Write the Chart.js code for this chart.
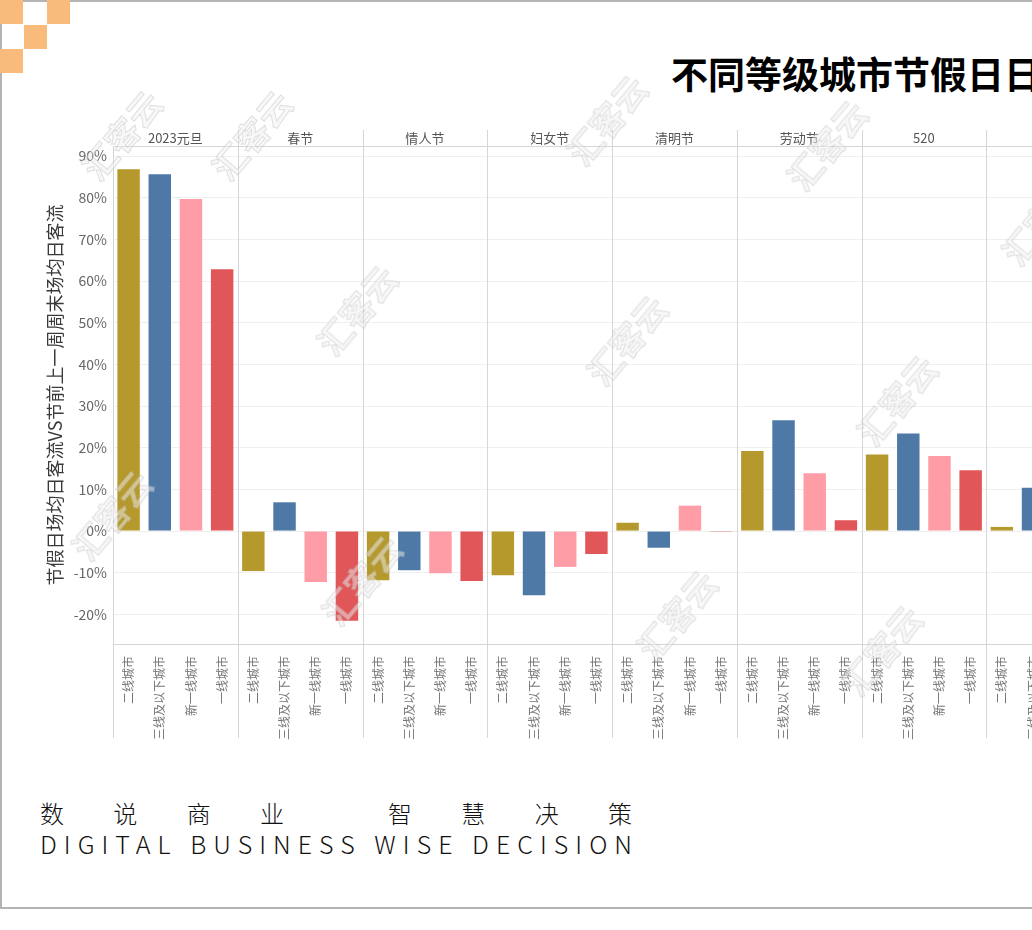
<!DOCTYPE html>
<html>
<head>
<meta charset="utf-8">
<script src="https://cdn.jsdelivr.net/npm/chart.js@4.4.0/dist/chart.umd.min.js"></script>
<style>
  html, body { margin: 0; padding: 0; background: #fff; }
  body { width: 1032px; height: 930px; overflow: hidden; position: relative; font-family: "Noto Sans CJK SC", "Noto Sans", sans-serif; }
  .frame { position: absolute; left: 0; top: 0; width: 1200px; height: 905px; border: 2px solid #b4b4b4; }
  .sq { position: absolute; width: 23px; height: 24px; background: #f8bb7c; }
  #wrap { position: absolute; left: 0; top: 0; width: 1120px; height: 760px; }
  .title { position: absolute; left: 671px; top: 55px; font-size: 37px; line-height: 37px; font-weight: 700; color: #000; white-space: nowrap; }
  .foot { position: absolute; left: 40px; white-space: nowrap; color: #111; font-weight: 300; }
  #f1 { top: 799px; font-size: 24px; line-height: 28px; }
  #f2 { top: 829px; font-size: 25px; line-height: 28px; }
  .wm { position: absolute; font-size: 34px; font-weight: 700; white-space: nowrap; color: rgba(240,240,240,0.5);
        -webkit-text-stroke: 1px rgba(160,160,160,0.3); transform: rotate(-50deg); pointer-events: none; }
</style>
</head>
<body>
<div class="frame"></div>
<div class="sq" style="left:0;top:0"></div>
<div class="sq" style="left:47px;top:0"></div>
<div class="sq" style="left:24px;top:25px"></div>
<div class="sq" style="left:0;top:49px"></div>
<div class="title">不同等级城市节假日日均客流对比</div>
<div id="wrap"><canvas id="chart"></canvas></div>
<div class="foot" id="f1"><span>数说商业 智慧决策</span></div>
<div class="foot" id="f2"><span>DIGITAL BUSINESS WISE DECISION</span></div>
<div id="marks"></div>
<script>
const holidays = ['2023元旦', '春节', '情人节', '妇女节', '清明节', '劳动节', '520', '618'];
const tiers = ['二线城市', '三线及以下城市', '新一线城市', '一线城市'];
const tierColors = ['#b6992d', '#4e79a7', '#ff9da7', '#e15759'];

// % change, holiday daily avg vs. weekend before
const tier2 = [86.8, -9.6, -11.8, -10.6, 2.0, 19.2, 18.4, 1.0];
const tier3Below = [85.6, 6.9, -9.4, -15.4, -4.0, 26.6, 23.4, 10.4];
const newTier1 = [79.7, -12.2, -10.1, -8.6, 6.1, 13.9, 18.0, null];
const tier1 = [62.8, -21.5, -12.0, -5.5, -0.2, 2.6, 14.6, null];

const yTicks = [-20, -10, 0, 10, 20, 30, 40, 50, 60, 70, 80, 90];

const series = [tier2, tier3Below, newTier1, tier1];
const labels = [], values = [], colors = [];
holidays.forEach((h, g) => {
  tiers.forEach((t, i) => {
    labels.push(t);
    values.push(series[i][g]);
    colors.push(tierColors[i]);
  });
});

const groupPlugin = {
  id: 'groups',
  afterDraw(chart) {
    const { ctx, chartArea, scales: { x } } = chart;
    const slot = x.getPixelForValue(1) - x.getPixelForValue(0);
    ctx.save();
    ctx.strokeStyle = '#d6d6d6';
    ctx.lineWidth = 1;
    // header line, bottom line, left edge
    ctx.beginPath();
    ctx.moveTo(chartArea.left, chartArea.top + 0.5);
    ctx.lineTo(chartArea.right, chartArea.top + 0.5);
    ctx.moveTo(chartArea.left, chartArea.bottom + 0.5);
    ctx.lineTo(chartArea.right, chartArea.bottom + 0.5);
    ctx.moveTo(chartArea.left + 0.5, chartArea.top);
    ctx.lineTo(chartArea.left + 0.5, chartArea.bottom + 94);
    ctx.stroke();
    ctx.font = '13px "Noto Sans CJK SC", sans-serif';
    ctx.fillStyle = '#555';
    ctx.textAlign = 'center';
    ctx.textBaseline = 'middle';
    holidays.forEach((h, g) => {
      const left = x.getPixelForValue(g * 4) - slot / 2;
      if (g > 0) {
        ctx.beginPath();
        ctx.moveTo(Math.round(left) + 0.5, chartArea.top - 16);
        ctx.lineTo(Math.round(left) + 0.5, chartArea.bottom + 94);
        ctx.stroke();
      }
      ctx.fillText(h, left + slot * 2, chartArea.top - 8);
    });
    ctx.restore();
  }
};

new Chart('chart', {
  type: 'bar',
  data: {
    labels: labels,
    datasets: [{
      data: values,
      backgroundColor: colors,
      barPercentage: 0.72,
      categoryPercentage: 1
    }]
  },
  options: {
    responsive: true,
    maintainAspectRatio: false,
    animation: false,
    layout: { padding: { top: 146, right: 9, bottom: 16, left: 0 } },
    plugins: { legend: { display: false }, tooltip: { enabled: false } },
    scales: {
      x: {
        grid: { display: false },
        border: { display: false },
        ticks: {
          autoSkip: false,
          minRotation: 90,
          maxRotation: 90,
          padding: 4,
          color: '#777',
          font: { size: 12, family: '"Noto Sans CJK SC", sans-serif' }
        },
        afterFit(scale) { scale.height = 100; }
      },
      y: {
        min: -27.1,
        max: 92.4,
        grid: { color: '#efefef', drawTicks: false },
        border: { display: false },
        ticks: {
          stepSize: 10,
          padding: 6,
          color: '#666',
          font: { size: 14, family: '"Noto Sans CJK SC", sans-serif' },
          callback: v => v + '%'
        },
        afterBuildTicks(scale) {
          scale.ticks = yTicks.map(v => ({ value: v }));
        },
        afterFit(scale) { scale.width = 113; },
        title: {
          display: true,
          text: '节假日场均日客流VS节前上一周周末场均日客流',
          color: '#3a3a3a',
          font: { size: 18, family: '"Noto Sans CJK SC", sans-serif' },
          padding: { top: 44, bottom: 0 }
        }
      }
    }
  },
  plugins: [groupPlugin]
});

// stretch footer lines to their width in the picture
function fit(id, width) {
  const el = document.getElementById(id).firstChild;
  const n = el.textContent.length;
  const w = el.getBoundingClientRect().width;
  el.style.letterSpacing = ((width - w) / (n - 1)) + 'px';
}
fit('f1', 592);
fit('f2', 592);

// watermarks
const marks = [[70, 110], [555, 95], [775, 120], [990, 195], [305, 285], [575, 315], [845, 375],
               [60, 490], [310, 555], [625, 590], [830, 625], [200, 110]];
const box = document.getElementById('marks');
marks.forEach(([l, t]) => {
  const s = document.createElement('div');
  s.className = 'wm';
  s.style.left = l + 'px';
  s.style.top = t + 'px';
  s.textContent = '汇客云';
  box.appendChild(s);
});
</script>
</body>
</html>
